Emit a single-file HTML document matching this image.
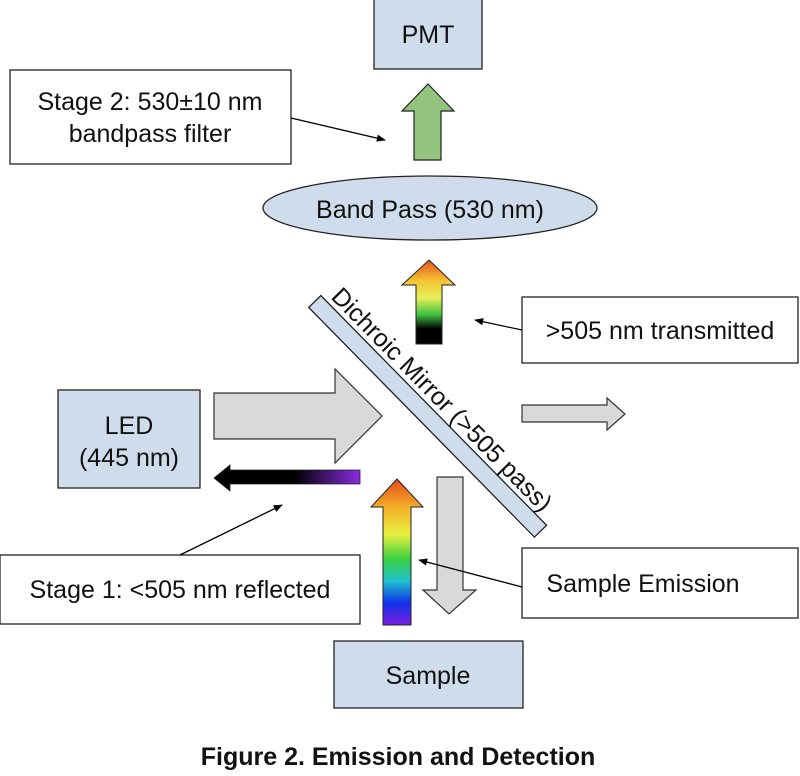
<!DOCTYPE html>
<html><head><meta charset="utf-8"><style>
html,body{margin:0;padding:0;background:#fff;width:800px;height:776px;overflow:hidden}
svg{display:block;font-family:"Liberation Sans",Arial,sans-serif}
</style></head><body>
<svg width="800" height="776" viewBox="0 0 800 776">
<defs>
<linearGradient id="gTop" x1="0" y1="0" x2="0" y2="1">
<stop offset="0" stop-color="#e8501e"/><stop offset="0.25" stop-color="#f4c432"/><stop offset="0.45" stop-color="#e8f05a"/><stop offset="0.65" stop-color="#40c040"/><stop offset="0.82" stop-color="#000"/><stop offset="1" stop-color="#000"/>
</linearGradient>
<linearGradient id="gBot" x1="0" y1="0" x2="0" y2="1">
<stop offset="0" stop-color="#e84a1e"/><stop offset="0.2" stop-color="#f4b22a"/><stop offset="0.38" stop-color="#e8f040"/><stop offset="0.55" stop-color="#38d040"/><stop offset="0.7" stop-color="#20c0d0"/><stop offset="0.85" stop-color="#1030e8"/><stop offset="1" stop-color="#7a20e0"/>
</linearGradient>
<linearGradient id="gLeft" x1="0" y1="0" x2="1" y2="0">
<stop offset="0" stop-color="#000"/><stop offset="0.55" stop-color="#000"/><stop offset="1" stop-color="#8a2be2"/>
</linearGradient>
<marker id="ah" viewBox="0 0 10 10" refX="9" refY="5" markerWidth="7" markerHeight="7" orient="auto"><path d="M0,1 L10,5 L0,9 z" fill="#000"/></marker>
</defs>

<rect x="374" y="-2" width="108" height="71" fill="#cfdcec" stroke="#222" stroke-width="1.3"/>
<text x="428" y="43" font-size="25" text-anchor="middle" fill="#111">PMT</text>

<path d="M428,84 L454,111 L441,111 L441,160 L414,160 L414,111 L402,111 Z" fill="#93c47d" stroke="#222" stroke-width="1.2"/>

<rect x="10" y="70" width="281" height="94" fill="#fff" stroke="#222" stroke-width="1.3"/>
<text x="150" y="110" font-size="25" text-anchor="middle" fill="#111">Stage 2: 530±10 nm</text>
<text x="150" y="142" font-size="25" text-anchor="middle" fill="#111">bandpass filter</text>
<line x1="291" y1="118" x2="385" y2="140" stroke="#000" stroke-width="1.3" marker-end="url(#ah)"/>

<ellipse cx="430" cy="208" rx="167" ry="32" fill="#cfdcec" stroke="#222" stroke-width="1.3"/>
<text x="430" y="218" font-size="25" text-anchor="middle" fill="#111">Band Pass (530 nm)</text>

<path d="M429,260 L455,285 L442,285 L442,344 L416,344 L416,285 L402,285 Z" fill="url(#gTop)" stroke="#222" stroke-width="1"/>

<rect x="522" y="297" width="276" height="66" fill="#fff" stroke="#222" stroke-width="1.3"/>
<text x="660" y="339" font-size="25" text-anchor="middle" fill="#111">&gt;505 nm transmitted</text>
<line x1="522" y1="330" x2="475" y2="320" stroke="#000" stroke-width="1.3" marker-end="url(#ah)"/>

<g transform="translate(428,416) rotate(45.5)">
<rect x="-161" y="-8" width="322" height="17" fill="#cfdcec" stroke="#222" stroke-width="1.3"/>
<text x="-2" y="-13" font-size="25" text-anchor="middle" fill="#111">Dichroic Mirror (&gt;505 pass)</text>
</g>

<rect x="58" y="390" width="142" height="98" fill="#cfdcec" stroke="#222" stroke-width="1.3"/>
<text x="129" y="434" font-size="25" text-anchor="middle" fill="#111">LED</text>
<text x="129" y="466" font-size="25" text-anchor="middle" fill="#111">(445 nm)</text>

<path d="M214,393 L335,393 L335,369 L382,416 L335,463 L335,439 L214,439 Z" fill="#d9d9d9" stroke="#333" stroke-width="1.2"/>

<path d="M214,478 L230,465 L230,470 L360,470 L360,484 L230,484 L230,491 Z" fill="url(#gLeft)" stroke="#222" stroke-width="0.8"/>

<path d="M522,405 L607,405 L607,398 L625,414 L607,430 L607,422 L522,422 Z" fill="#d9d9d9" stroke="#333" stroke-width="1.2"/>

<path d="M397,479 L423,507 L411,507 L411,625 L383,625 L383,507 L371,507 Z" fill="url(#gBot)" stroke="#222" stroke-width="1"/>

<path d="M437,477 L463,477 L463,590 L476,590 L449,614 L423,590 L437,590 Z" fill="#d9d9d9" stroke="#333" stroke-width="1.2"/>

<rect x="0" y="555" width="360" height="69" fill="#fff" stroke="#222" stroke-width="1.3"/>
<text x="180" y="598" font-size="25" text-anchor="middle" fill="#111">Stage 1: &lt;505 nm reflected</text>
<line x1="180" y1="555" x2="282" y2="505" stroke="#000" stroke-width="1.3" marker-end="url(#ah)"/>

<rect x="522" y="548" width="276" height="70" fill="#fff" stroke="#222" stroke-width="1.3"/>
<text x="643" y="592" font-size="25" text-anchor="middle" fill="#111">Sample Emission</text>
<line x1="522" y1="587" x2="419" y2="560" stroke="#000" stroke-width="1.3" marker-end="url(#ah)"/>

<rect x="334" y="641" width="189" height="67" fill="#cfdcec" stroke="#222" stroke-width="1.3"/>
<text x="428" y="684" font-size="25" text-anchor="middle" fill="#111">Sample</text>

<text x="398" y="765" font-size="25" font-weight="bold" text-anchor="middle" fill="#111">Figure 2. Emission and Detection</text>
</svg>
</body></html>
